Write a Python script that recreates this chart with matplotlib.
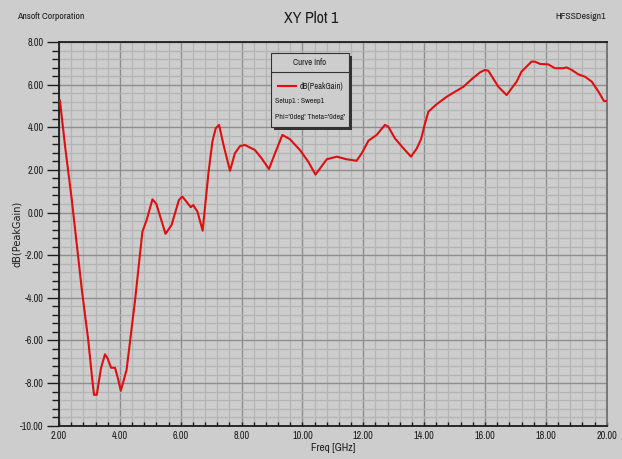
import matplotlib
matplotlib.use("Agg")
import matplotlib.pyplot as plt
from matplotlib.ticker import MultipleLocator, FormatStrFormatter
from matplotlib.patches import Rectangle

plt.rcParams['font.family'] = ['Archivo Narrow', 'DejaVu Sans']

# Peak gain vs frequency
freq_ghz = [2.03, 2.20, 2.42, 2.75, 2.96, 3.09, 3.15, 3.24, 3.38, 3.51, 3.60, 3.71, 3.84,
            3.94, 4.03, 4.22, 4.50, 4.74, 4.88, 5.07, 5.20, 5.50, 5.70, 5.94, 6.05, 6.11,
            6.22, 6.33, 6.41, 6.55, 6.72, 6.91, 7.04, 7.15, 7.26, 7.42, 7.62, 7.78, 7.95,
            8.11, 8.44, 8.66, 8.90, 9.10, 9.34, 9.59, 9.92, 10.19, 10.43, 10.80, 11.13,
            11.45, 11.78, 11.95, 12.17, 12.44, 12.71, 12.82, 13.04, 13.32, 13.57, 13.76,
            13.90, 14.03, 14.14, 14.41, 14.74, 14.96, 15.29, 15.56, 15.84, 16.00, 16.11,
            16.44, 16.71, 17.04, 17.20, 17.53, 17.64, 17.81, 18.08, 18.30, 18.57, 18.68,
            18.85, 19.07, 19.29, 19.51, 19.73, 19.91, 20.00]
gain_db = [5.25, 3.10, 0.59, -3.63, -5.98, -7.80, -8.55, -8.55, -7.30, -6.65, -6.85, -7.28,
           -7.28, -7.80, -8.36, -7.38, -4.10, -0.90, -0.35, 0.62, 0.40, -1.00, -0.58, 0.59,
           0.75, 0.65, 0.45, 0.25, 0.35, 0.04, -0.85, 1.84, 3.32, 3.95, 4.11, 3.09, 1.96,
           2.78, 3.12, 3.17, 2.93, 2.54, 2.04, 2.78, 3.64, 3.44, 2.93, 2.39, 1.78, 2.50,
           2.62, 2.50, 2.43, 2.78, 3.37, 3.64, 4.11, 4.03, 3.48, 3.01, 2.62, 3.01, 3.45,
           4.19, 4.73, 5.08, 5.43, 5.62, 5.90, 6.25, 6.58, 6.69, 6.65, 5.90, 5.51, 6.14,
           6.61, 7.08, 7.08, 6.97, 6.95, 6.77, 6.77, 6.81, 6.69, 6.48, 6.37, 6.14, 5.67,
           5.23, 5.23]

legend_lines = ["dB(PeakGain)", "Setup1 : Sweep1", "Phi='0deg' Theta='0deg'"]

bg = "#cdcdcd"
ink = "#1c1c1c"
fig = plt.figure(figsize=(6.22, 4.59), dpi=100, facecolor=bg)
ax = fig.add_axes([0.0949, 0.0725, 0.8805, 0.836], facecolor=bg)

ax.plot(freq_ghz, gain_db, color="#dd0f0f", lw=1.5, zorder=3)

ax.set_xlim(2, 20)
ax.set_ylim(-10, 8)
ax.xaxis.set_major_locator(MultipleLocator(2))
ax.xaxis.set_minor_locator(MultipleLocator(0.4))
ax.yaxis.set_major_locator(MultipleLocator(2))
ax.yaxis.set_minor_locator(MultipleLocator(0.4))
ax.xaxis.set_major_formatter(FormatStrFormatter("%.2f"))
ax.yaxis.set_major_formatter(FormatStrFormatter("%.2f"))

ax.grid(which="major", color="#8e8e8e", lw=1.0, zorder=1)
ax.grid(which="minor", color="#b4b4b4", lw=0.9, zorder=0)
ax.set_axisbelow(True)

ax.tick_params(which="major", direction="out", length=9, width=1.0, color=ink,
               labelsize=7.3, pad=2, labelcolor=ink)
ax.tick_params(axis="y", which="minor", direction="out", length=5, width=1.0, color=ink)
ax.tick_params(axis="x", which="minor", direction="in", length=3, width=1.0, color=ink)
ax.tick_params(axis="x", which="major", length=3, direction="in", pad=4)

for side in ["left", "bottom", "top"]:
    ax.spines[side].set_color(ink)
    ax.spines[side].set_linewidth(1.3)
ax.spines["right"].set_color("#707070")
ax.spines["right"].set_linewidth(1.3)

ax.set_xlabel("Freq [GHz]", fontsize=8, color=ink, labelpad=1)
ax.set_ylabel("dB(PeakGain)", fontsize=7, color=ink, family=["DejaVu Sans"])
ax.yaxis.set_label_coords(-0.068, 0.5)

fig.text(0.027, 0.963, "Ansoft Corporation", fontsize=7, ha="left", va="center", color=ink)
fig.text(0.5, 0.960, "XY Plot 1", fontsize=11.5, ha="center", va="center", color=ink)
fig.text(0.975, 0.963, "HFSSDesign1", fontsize=7, ha="right", va="center", color=ink)

# Curve info box (axes-fraction placement)
x0, x1 = (271 - 59) / 547.7, (349 - 59) / 547.7
y_top, y_bot = 1 - (53 - 42) / 383.7, 1 - (127 - 42) / 383.7
y_sep = 1 - (72 - 42) / 383.7
sh = 0.005
ax.add_patch(Rectangle((x0 + sh, y_bot - sh * 1.4), x1 - x0, y_top - y_bot,
                       transform=ax.transAxes, facecolor="#333333", edgecolor="none", zorder=4))
ax.add_patch(Rectangle((x0, y_bot), x1 - x0, y_top - y_bot, transform=ax.transAxes,
                       facecolor=bg, edgecolor="#333333", lw=0.8, zorder=5))
ax.plot([x0, x1], [y_sep, y_sep], transform=ax.transAxes, color="#333333", lw=0.8, zorder=6)
ax.text((x0 + x1) / 2, (y_top + y_sep) / 2, "Curve Info", transform=ax.transAxes,
        fontsize=6.3, ha="center", va="center", color=ink, zorder=6)
row_y = [1 - (86 - 42) / 383.7, 1 - (101 - 42) / 383.7, 1 - (117 - 42) / 383.7]
ax.plot([x0 + 0.012, x0 + 0.045], [row_y[0], row_y[0]], transform=ax.transAxes,
        color="#dd0f0f", lw=1.5, zorder=6)
ax.text(x0 + 0.052, row_y[0], legend_lines[0], transform=ax.transAxes, fontsize=6,
        ha="left", va="center", color=ink, zorder=6)
for yy, s in zip(row_y[1:], legend_lines[1:]):
    ax.text(x0 + 0.007, yy, s, transform=ax.transAxes, fontsize=5.7,
            ha="left", va="center", color=ink, zorder=6)

fig.savefig("out.png", dpi=100, facecolor=bg)
